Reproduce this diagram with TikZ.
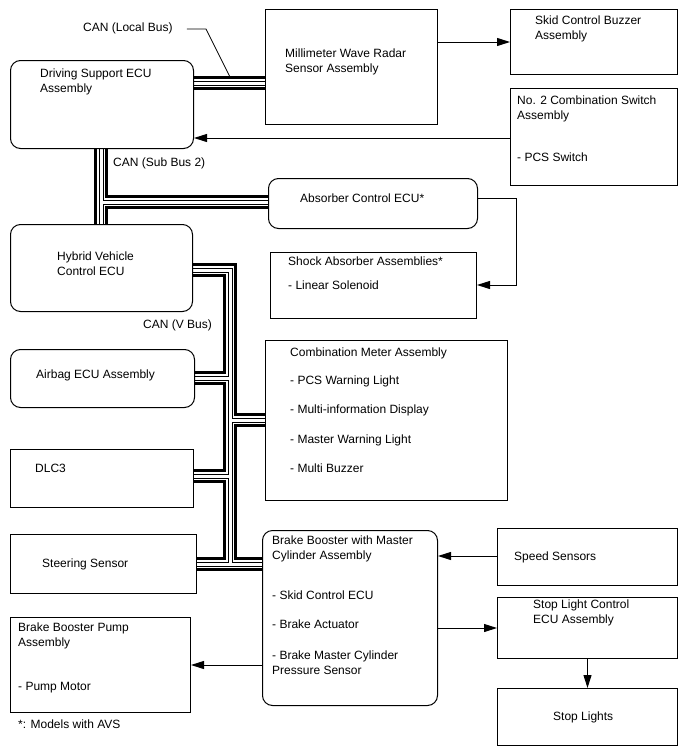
\documentclass[tikz,border=0pt]{standalone}
\usepackage{fontspec}
\setmainfont{Liberation Sans}
\usetikzlibrary{arrows.meta,calc}
\pgfdeclarelayer{bg}
\pgfsetlayers{bg,main}
\begin{document}
\begin{tikzpicture}[x=1pt,y=-1pt,
  box/.style={draw, line width=1pt, fill=white, inner sep=0pt, anchor=north west},
  rbox/.style={box, rounded corners=10pt},
  txt/.style={font=\fontsize{12}{15}\selectfont, inner sep=0pt, anchor=north west, align=left},
  arr/.style={line width=1pt, -{Triangle[length=13pt,width=8pt]}},
  lead/.style={line width=0.8pt}]
\useasboundingbox (0,0) rectangle (688,755);

% boxes
\node[rbox, minimum width=183pt, minimum height=88pt] (dse) at (10,60) {};
\node[box, minimum width=172pt, minimum height=115pt] (mwr) at (265,9) {};
\node[box, minimum width=167pt, minimum height=65pt] (skid) at (510,9) {};
\node[box, minimum width=167pt, minimum height=97pt] (no2) at (510,88) {};
\node[rbox, minimum width=209pt, minimum height=50pt] (abs) at (268,178) {};
\node[box, minimum width=206pt, minimum height=66pt] (shock) at (270,252) {};
\node[rbox, minimum width=182pt, minimum height=87pt] (hv) at (10,224) {};
\node[rbox, minimum width=184pt, minimum height=58pt] (air) at (10,349) {};
\node[box, minimum width=242pt, minimum height=160pt] (cm) at (265,340) {};
\node[box, minimum width=183pt, minimum height=58pt] (dlc) at (10,449) {};
\node[box, minimum width=186pt, minimum height=59pt] (steer) at (10,534) {};
\node[rbox, minimum width=175pt, minimum height=175pt] (brake) at (262,530) {};
\node[box, minimum width=180pt, minimum height=57pt] (speed) at (497,528) {};
\node[box, minimum width=180pt, minimum height=61pt] (stopc) at (497,597) {};
\node[box, minimum width=180pt, minimum height=57pt] (stopl) at (497,688) {};
\node[box, minimum width=180pt, minimum height=95pt] (pump) at (10,617) {};

% CAN buses
\begin{pgfonlayer}{bg}
\foreach \w/\c in {13.5/black,8/white,5/black,3/white}{
  \draw[line width=\w pt, draw=\c]
    (dse.east |- 0,83) -- (mwr.west |- 0,83)
    (101,0 |- dse.south) -- (101,0 |- hv.north)
    (101,202) -- (abs.west |- 0,202)
    (hv.east |- 0,270) -- (230,270) -- (230,564)
    (air.east |- 0,378) -- (230,378)
    (230,420) -- (cm.west |- 0,420)
    (dlc.east |- 0,476) -- (230,476)
    (steer.east |- 0,564) -- (brake.west |- 0,564);
}
\end{pgfonlayer}

% texts
\node[txt] (tlocal) at (83,22.6) {CAN (Local Bus)};
\coordinate (lk) at (206,29);
\coordinate (le) at (230,77);
\draw[lead] ([xshift=14pt]tlocal.east |- lk) -- (lk) -- (le);
\node[txt] (tdse) at (40,68.6) {Driving Support ECU\\Assembly};
\node[txt] (tmwr) at (285,48.9) {Millimeter Wave Radar\\Sensor Assembly};
\node[txt] (tskid) at (535,15.6) {Skid Control Buzzer\\Assembly};
\node[txt] (tno2) at (517,95.6) {No. 2 Combination Switch\\Assembly};
\node[txt] (tno2a) at (517,152.6) {- PCS Switch};
\node[txt] (tsub) at (113,157.6) {CAN (Sub Bus 2)};
\node[txt] (tabs) at (300,193.6) {Absorber Control ECU*};
\node[txt] (tshock) at (288,256.6) {Shock Absorber Assemblies*};
\node[txt] (tshocka) at (288,280.6) {- Linear Solenoid};
\node[txt] (thv) at (57,251.6) {Hybrid Vehicle\\Control ECU};
\node[txt] (tvbus) at (143,319.6) {CAN (V Bus)};
\node[txt] (tair) at (36,369.6) {Airbag ECU Assembly};
\node[txt] (tcm) at (290,347.6) {Combination Meter Assembly};
\node[txt] (tcma) at (290,375.6) {- PCS Warning Light};
\node[txt] (tcmb) at (290,404.6) {- Multi-information Display};
\node[txt] (tcmc) at (290,434.6) {- Master Warning Light};
\node[txt] (tcmd) at (290,463.6) {- Multi Buzzer};
\node[txt] (tdlc) at (35,463.6) {DLC3};
\node[txt] (tsteer) at (42,558.6) {Steering Sensor};
\node[txt] (tbrake) at (272,535.6) {Brake Booster with Master\\Cylinder Assembly};
\node[txt] (tbrakea) at (272,590.6) {- Skid Control ECU};
\node[txt] (tbrakeb) at (272,619.6) {- Brake Actuator};
\node[txt] (tbrakec) at (272,650.6) {- Brake Master Cylinder\\Pressure Sensor};
\node[txt] (tspeed) at (514,551.6) {Speed Sensors};
\node[txt] (tstopc) at (533,599.6) {Stop Light Control\\ECU Assembly};
\node[txt] (tstopl) at (553,711.6) {Stop Lights};
\node[txt] (tpump) at (18,622.6) {Brake Booster Pump\\Assembly};
\node[txt] (tpumpa) at (18,681.6) {- Pump Motor};
\node[txt] (tnote) at (18,719.6) {*: Models with AVS};

% arrows
\draw[arr] (mwr.east |- 0,42) -- (skid.west |- 0,42);
\draw[arr] (no2.west |- 0,138) -- (dse.east |- 0,138);
\draw[arr] (abs.east |- 0,198) -- (516,198) |- (shock.east |- 0,285);
\draw[arr] (speed.west |- 0,556) -- (brake.east |- 0,556);
\draw[arr] (brake.east |- 0,628) -- (stopc.west |- 0,628);
\draw[arr] (stopc.south) -- (stopl.north);
\draw[arr] (brake.west |- 0,665) -- (pump.east |- 0,665);
\end{tikzpicture}
\end{document}
